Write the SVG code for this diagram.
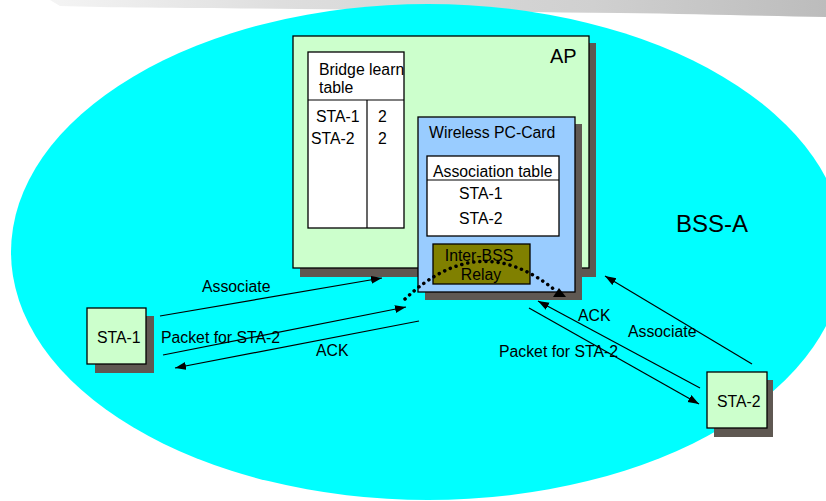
<svg xmlns="http://www.w3.org/2000/svg" width="826" height="501" viewBox="0 0 826 501">
<style>
text{font-family:"Liberation Sans",Arial,sans-serif;font-size:15.8px;fill:#000}
.box{stroke:#000;stroke-width:1.3}
.sh{fill:#5f5852}
.ln{stroke:#000;stroke-width:1.2;fill:none}
</style>
<defs>
<linearGradient id="band" x1="0" y1="0" x2="1" y2="0">
<stop offset="0" stop-color="#f4f4f4"/>
<stop offset="0.3" stop-color="#dedede"/>
<stop offset="0.7" stop-color="#d0d0d0"/>
<stop offset="1" stop-color="#bcbcbc"/>
</linearGradient>
<marker id="ah" markerUnits="userSpaceOnUse" markerWidth="12" markerHeight="10" refX="11" refY="4" orient="auto">
<path d="M0,0 L11,4 L0,8 Z" fill="#000"/>
</marker>
</defs>
<rect width="826" height="501" fill="#fff"/>
<path d="M50,0 L826,0 L826,17 C760,16 700,14 620,13 C500,12 400,10 300,9 C200,8 120,8 60,6 Z" fill="url(#band)"/>
<ellipse cx="428" cy="252" rx="417" ry="248" fill="#00ffff"/>
<text x="676" y="232" style="font-size:24px">BSS-A</text>

<g id="ap">
<rect class="sh" x="300" y="43" width="296" height="234"/>
<rect class="box" x="293" y="36" width="296" height="232" fill="#ccffcc"/>
<text x="550" y="63" style="font-size:20px">AP</text>
</g>
<g id="bridge-table">
<rect class="box" x="308" y="52" width="96" height="176" fill="#fff"/>
<line class="ln" x1="308" y1="100" x2="404" y2="100"/>
<line class="ln" x1="367" y1="100" x2="367" y2="228"/>
<text x="319" y="75">Bridge learn</text>
<text x="319" y="93">table</text>
<text x="316" y="122">STA-1</text>
<text x="378" y="122">2</text>
<text x="311" y="144">STA-2</text>
<text x="378" y="144">2</text>
</g>
<g id="pc-card">
<rect class="sh" x="425" y="124" width="157" height="176"/>
<rect class="box" x="418" y="117" width="157" height="175" fill="#99ccff"/>
<text x="429" y="138">Wireless PC-Card</text>
</g>
<g id="assoc-table">
<rect class="box" x="427" y="156" width="132" height="80" fill="#fff"/>
<line class="ln" x1="427" y1="180" x2="559" y2="180"/>
<text x="433" y="177">Association table</text>
<text x="459" y="199">STA-1</text>
<text x="459" y="224">STA-2</text>
</g>
<g id="relay">
<rect class="box" x="433" y="244" width="97" height="40" fill="#808000"/>
<text x="479" y="261" text-anchor="middle">Inter-BSS</text>
<text x="481" y="280" text-anchor="middle">Relay</text>
</g>
<g id="sta1">
<rect class="sh" x="95" y="316" width="59" height="57"/>
<rect class="box" x="87" y="308" width="59" height="56" fill="#ccffcc"/>
<text x="97" y="343">STA-1</text>
</g>
<g id="sta2">
<rect class="sh" x="714" y="380" width="59" height="57"/>
<rect class="box" x="707" y="372" width="60" height="56" fill="#ccffcc"/>
<text x="717" y="407">STA-2</text>
</g>

<g id="connectors">
<path d="M405,299 Q480,228 556,291" fill="none" stroke="#000" stroke-width="3.5" stroke-dasharray="0.1 6" stroke-linecap="round"/>
<path d="M559,288 L566,297 L553,297 Z" fill="#000"/>
<line class="ln" x1="160" y1="316" x2="382" y2="278" marker-end="url(#ah)"/>
<line class="ln" x1="163" y1="355" x2="406" y2="307" marker-end="url(#ah)"/>
<line class="ln" x1="419" y1="321" x2="175" y2="368" marker-end="url(#ah)"/>
<line class="ln" x1="752" y1="364" x2="605" y2="276" marker-end="url(#ah)"/>
<line class="ln" x1="700" y1="388" x2="538" y2="301" marker-end="url(#ah)"/>
<line class="ln" x1="529" y1="308" x2="699" y2="404" marker-end="url(#ah)"/>
<text x="202" y="292">Associate</text>
<text x="161" y="343">Packet for STA-2</text>
<text x="316" y="356">ACK</text>
<text x="628" y="337">Associate</text>
<text x="578" y="321">ACK</text>
<text x="499" y="357">Packet for STA-2</text>
</g>
</svg>
